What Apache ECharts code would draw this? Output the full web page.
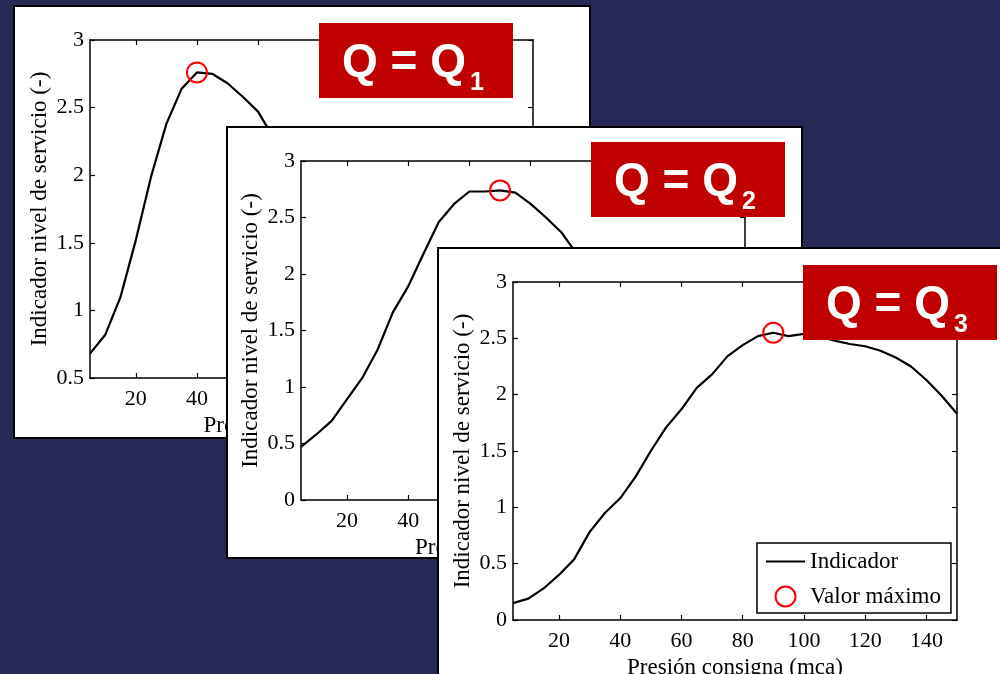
<!DOCTYPE html>
<html>
<head>
<meta charset="utf-8">
<script src="https://cdn.jsdelivr.net/npm/echarts@6/dist/echarts.min.js"></script>
<style>
  html, body { margin: 0; padding: 0; background: #262856; }
  #chart { width: 1000px; height: 674px; }
</style>
</head>
<body>
<div id="chart"></div>
<script>
// Presión de consigna (mca) y el indicador de nivel de servicio para tres caudales
const presion = [5, 10, 15, 20, 25, 30, 35, 40, 45, 50, 55, 60, 65, 70, 75, 80, 85, 90, 95, 100,
                 105, 110, 115, 120, 125, 130, 135, 140, 145, 150];
const indicadorQ1 = [0.68, 0.82, 1.10, 1.52, 1.99, 2.38, 2.64, 2.76, 2.75, 2.68, 2.58, 2.47, 2.28];
const indicadorQ2 = [0.47, 0.58, 0.70, 0.89, 1.08, 1.33, 1.66, 1.89, 2.18, 2.46, 2.62, 2.73, 2.73,
                     2.74, 2.72, 2.62, 2.50, 2.37, 2.18];
const indicadorQ3 = [0.15, 0.19, 0.28, 0.40, 0.54, 0.78, 0.95, 1.08, 1.27, 1.50, 1.71, 1.87, 2.06,
                     2.18, 2.34, 2.44, 2.52, 2.55, 2.52, 2.54, 2.52, 2.48, 2.45, 2.43, 2.39, 2.33,
                     2.25, 2.13, 1.99, 1.83];
const ticksPresion = [20, 40, 60, 80, 100, 120, 140];
const subindicesCaudal = ['1', '2', '3'];
const textoCaudal = 'Q = Q';
const nombreEjeX = 'Presión consigna (mca)';
const nombreEjeY = 'Indicador nivel de servicio (-)';
const nombreLinea = 'Indicador';
const nombreMaximo = 'Valor máximo';

// Disposición de las tres hojas superpuestas (cada una en su propia capa)
const hojas = [
  { caja: [14, 6, 576, 432],   grid: [90, 40, 443, 338],  yMin: 0.5, rotulo: [319, 23],  valores: indicadorQ1 },
  { caja: [227, 127, 575, 431], grid: [301, 161, 444, 339], yMin: 0,   rotulo: [591, 142], valores: indicadorQ2 },
  { caja: [438, 248, 600, 500], grid: [513, 282, 444, 338], yMin: 0,   rotulo: [803, 265], valores: indicadorQ3 }
];

const SERIF = '"Liberation Serif", "DejaVu Serif", serif';
const negro = '#000';

const grids = [], xAxes = [], yAxes = [], series = [], graphics = [];

hojas.forEach((h, i) => {
  const [bx, by, bw, bh] = h.caja;
  graphics.push({
    type: 'rect', zlevel: i, z: 0, silent: true,
    shape: { x: bx, y: by, width: bw, height: bh },
    style: { fill: '#fff', stroke: negro, lineWidth: 2 }
  });
  const [rx, ry] = h.rotulo;
  graphics.push({
    type: 'rect', zlevel: i, z: 100, silent: true,
    shape: { x: rx, y: ry, width: 194, height: 75 },
    style: { fill: '#C00000' }
  });
  graphics.push({
    type: 'text', zlevel: i, z: 101, silent: true,
    x: rx + 23, y: ry + 40,
    style: { text: textoCaudal, fill: '#fff', font: 'bold 46px "Liberation Sans", Arial, sans-serif',
             textAlign: 'left', textVerticalAlign: 'middle', verticalAlign: 'middle' }
  });
  graphics.push({
    type: 'text', zlevel: i, z: 101, silent: true,
    x: rx + 151, y: ry + 60,
    style: { text: subindicesCaudal[i], fill: '#fff', font: 'bold 25px "Liberation Sans", Arial, sans-serif',
             textAlign: 'left', textVerticalAlign: 'middle', verticalAlign: 'middle' }
  });

  const [gl, gt, gw, gh] = h.grid;
  grids.push({ left: gl, top: gt, width: gw, height: gh, zlevel: i, show: false,
               containLabel: false, outerBoundsMode: 'none' });

  const lineaEje = { show: true, onZero: false, lineStyle: { color: negro, width: 1.5 } };
  const marcaX = { show: true, inside: true, length: 5, customValues: ticksPresion, lineStyle: { color: negro, width: 1.2 } };
  const marcaY = { show: true, inside: true, length: 5, lineStyle: { color: negro, width: 1.2 } };

  xAxes.push({
    type: 'value', gridIndex: i, position: 'bottom', min: 5, max: 150, zlevel: i, z: 10,
    axisLine: lineaEje, axisTick: marcaX, splitLine: { show: false },
    axisLabel: { customValues: ticksPresion, margin: 10, color: negro, fontFamily: SERIF, fontSize: 22 },
    name: nombreEjeX, nameLocation: 'middle', nameGap: 25,
    nameTextStyle: { color: negro, fontFamily: SERIF, fontSize: 23 }
  });
  xAxes.push({
    type: 'value', gridIndex: i, position: 'top', min: 5, max: 150, zlevel: i, z: 10,
    axisLine: lineaEje, axisTick: marcaX, splitLine: { show: false }, axisLabel: { show: false }
  });
  yAxes.push({
    type: 'value', gridIndex: i, position: 'left', min: h.yMin, max: 3, interval: 0.5, zlevel: i, z: 10,
    axisLine: lineaEje, axisTick: marcaY, splitLine: { show: false },
    axisLabel: { margin: 6, color: negro, fontFamily: SERIF, fontSize: 22 },
    name: nombreEjeY, nameLocation: 'middle', nameGap: 39,
    nameTextStyle: { color: negro, fontFamily: SERIF, fontSize: 23 }
  });
  yAxes.push({
    type: 'value', gridIndex: i, position: 'right', min: h.yMin, max: 3, interval: 0.5, zlevel: i, z: 10,
    axisLine: lineaEje, axisTick: marcaY, splitLine: { show: false }, axisLabel: { show: false }
  });

  // Punto de valor máximo de la curva
  let kMax = 0;
  h.valores.forEach((v, k) => { if (v > h.valores[kMax]) kMax = k; });

  series.push({
    type: 'line', name: nombreLinea, xAxisIndex: 2 * i, yAxisIndex: 2 * i, zlevel: i, z: 20,
    data: h.valores.map((v, k) => [presion[k], v]),
    symbol: 'none', clip: true,
    lineStyle: { color: negro, width: 2.2 }, itemStyle: { color: negro }
  });
  series.push({
    type: 'scatter', name: nombreMaximo, xAxisIndex: 2 * i, yAxisIndex: 2 * i, zlevel: i, z: 21,
    data: [[presion[kMax], h.valores[kMax]]],
    symbol: 'circle', symbolSize: 20,
    itemStyle: { color: 'rgba(0,0,0,0)', borderColor: '#ff0000', borderWidth: 2, opacity: 1 }
  });
});

const chart = echarts.init(document.getElementById('chart'), null, { renderer: 'canvas' });
chart.setOption({
  backgroundColor: '#262856',
  animation: false,
  grid: grids,
  xAxis: xAxes,
  yAxis: yAxes,
  series: series,
  graphic: { elements: graphics },
  legend: {
    zlevel: 2, z: 50,
    left: 757, top: 543,
    orient: 'vertical',
    selectedMode: false,
    backgroundColor: '#fff', borderColor: negro, borderWidth: 1.5,
    padding: [7, 10, 5, 9], itemGap: 12, itemWidth: 39, itemHeight: 20,
    textStyle: { color: negro, fontFamily: SERIF, fontSize: 23 },
    data: [
      { name: nombreLinea, icon: 'path://M0,0H39V2.2H0Z', itemStyle: { color: negro } },
      { name: nombreMaximo }
    ]
  }
});
</script>
</body>
</html>
